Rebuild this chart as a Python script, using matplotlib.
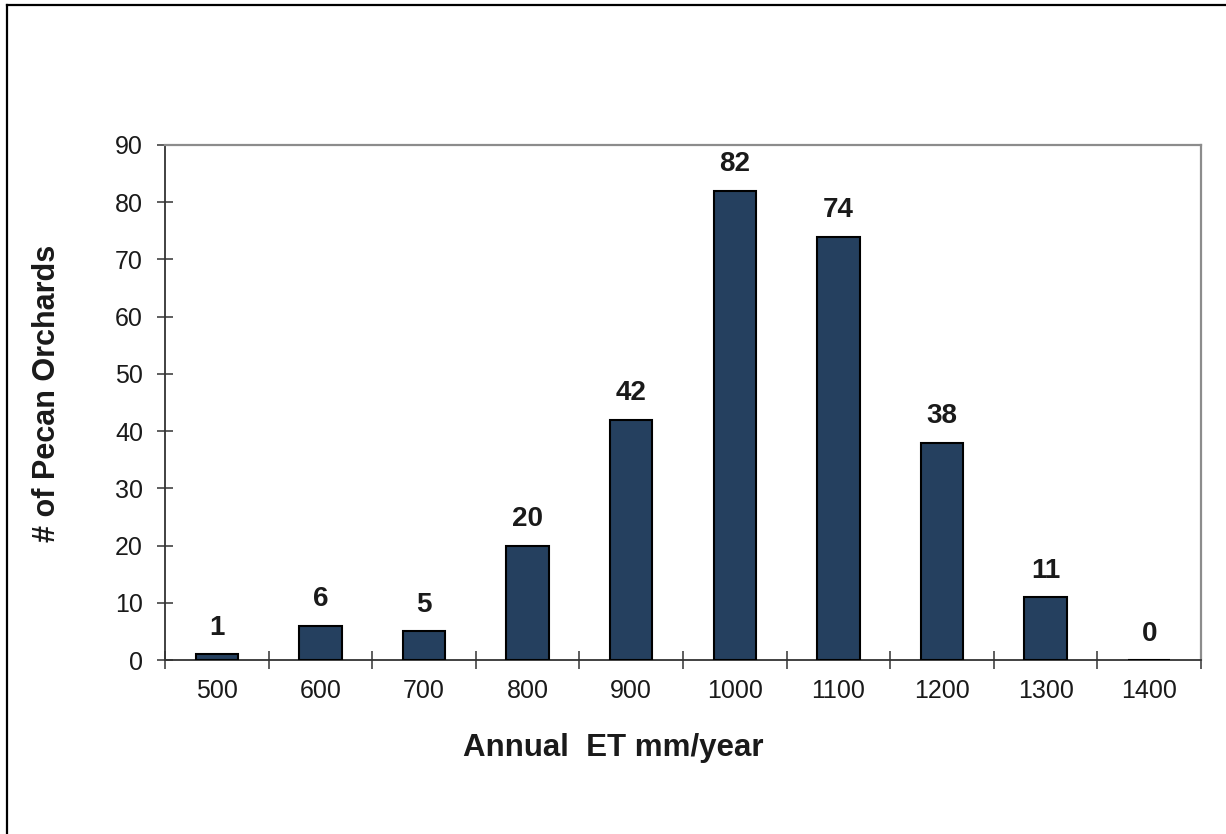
import matplotlib
matplotlib.use("Agg")
import matplotlib.pyplot as plt
from matplotlib.lines import Line2D
import numpy as np

plt.rcParams["font.family"] = ["Liberation Sans", "DejaVu Sans"]

# ── Data ───────────────────────────────────────────────────────────────────────
et_bins  = ["500", "600", "700", "800", "900", "1000", "1100", "1200", "1300", "1400"]
orchards = [1, 6, 5, 20, 42, 82, 74, 38, 11, 0]

BAR_COLOR  = "#25405f"
TEXT_COLOR = "#1a1a1a"

fig = plt.figure(figsize=(12.26, 8.34), dpi=100)
ax = fig.add_axes([165 / 1226, 1 - 660 / 834, 1036 / 1226, 515 / 834])

x = np.arange(len(et_bins))
bars = ax.bar(x, orchards, width=0.41, color=BAR_COLOR, edgecolor="black",
              linewidth=1.5, zorder=3)

for xi, v in zip(x, orchards):
    ax.annotate(f"{v}", (xi, v), xytext=(0, 19), textcoords="offset points",
                ha="center", va="center", fontsize=20, fontweight="bold",
                color=TEXT_COLOR)

ax.set_xlim(-0.5, len(et_bins) - 0.5)
ax.set_ylim(0, 90)
ax.set_yticks(np.arange(0, 91, 10))

# category labels centred, tick marks between categories
ax.set_xticks(x)
ax.set_xticklabels(et_bins)
ax.set_xticks(np.arange(-0.5, len(et_bins)), minor=True)
ax.tick_params(axis="x", which="major", length=0, pad=14, labelsize=18,
               labelcolor=TEXT_COLOR)
ax.tick_params(axis="x", which="minor", direction="inout", length=13,
               width=1.1, color="#333333")
ax.tick_params(axis="y", direction="inout", length=11.5, width=1.1,
               color="#333333", pad=10, labelsize=18, labelcolor=TEXT_COLOR)

for side in ("left", "bottom"):
    ax.spines[side].set_color("#333333")
    ax.spines[side].set_linewidth(1.3)
for side in ("top", "right"):
    ax.spines[side].set_color("#8c8c8c")
    ax.spines[side].set_linewidth(1.6)

ax.set_xlabel("Annual  ET mm/year", fontsize=22.5, fontweight="bold",
              color=TEXT_COLOR)
ax.xaxis.set_label_coords(0.433, -0.142)
ax.set_ylabel("# of Pecan Orchards", fontsize=22, fontweight="bold",
              color=TEXT_COLOR)
ax.yaxis.set_label_coords(-0.0994, 0.518)

# frame lines along the left and top of the figure
fig.add_artist(Line2D([7 / 1226, 7 / 1226], [0, 1 - 5 / 834],
                      transform=fig.transFigure, color="black", linewidth=1.6))
fig.add_artist(Line2D([7 / 1226, 1], [1 - 5 / 834, 1 - 5 / 834],
                      transform=fig.transFigure, color="black", linewidth=1.6))

fig.savefig("out.png", dpi=100)
